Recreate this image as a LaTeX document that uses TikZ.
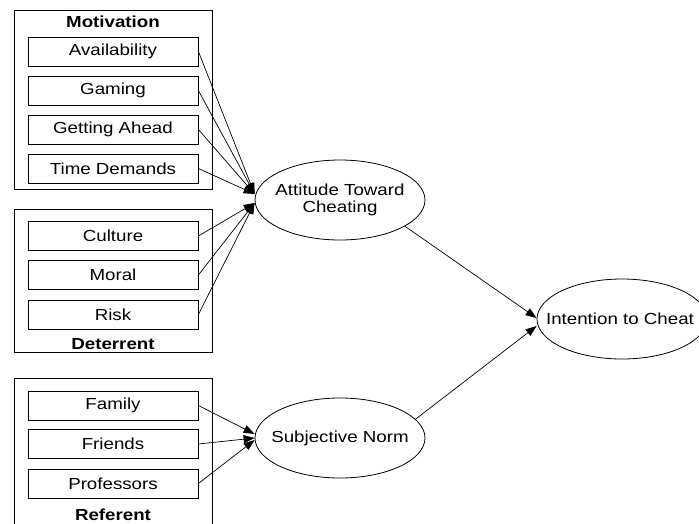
\documentclass[tikz,border=0pt]{standalone}
\usepackage{fontspec}
\setmainfont{Liberation Sans}[FakeStretch=1.17]
\usetikzlibrary{shapes.geometric,arrows.meta}
\begin{document}
\begin{tikzpicture}[x=1pt,y=-1pt,
  line width=0.8pt,
  font=\fontsize{16}{17}\selectfont,
  group/.style={draw, fill=none},
  item/.style={draw, rectangle, minimum width=170pt, minimum height=29pt, inner sep=0pt},
  title/.style={font=\fontsize{16}{17}\selectfont\bfseries, inner sep=0pt},
  construct/.style={draw, ellipse, minimum width=170pt, minimum height=80pt, inner sep=0pt},
  ctext/.style={inner sep=0pt, align=center},
  arr/.style={-{Triangle[length=11pt,width=8pt]}, line width=0.7pt}]
\useasboundingbox (0,0) rectangle (699,523);
\clip (0,0) rectangle (699,523);
% groups
\draw[group] (14,10) rectangle (212,189);
\draw[group] (14,209) rectangle (212,352);
\draw[group] (14,378) rectangle (212,540);
\node[title] (tmot) at (113,22) {Motivation};
\node[title] (tdet) at (113,344) {Deterrent};
\node[title] (tref) at (113,515) {Referent};
% items
\node[item] (avail) at (113,51.5) {Availability};
\node[item] (gaming) at (113,90.5) {Gaming};
\node[item] (ahead) at (113,129.5) {Getting Ahead};
\node[item] (time) at (113,168.5) {Time Demands};
\node[item] (culture) at (113,236) {Culture};
\node[item] (moral) at (113,275) {Moral};
\node[item] (risk) at (113,314.5) {Risk};
\node[item] (family) at (113,405.5) {Family};
\node[item] (friends) at (113,444) {Friends};
\node[item] (prof) at (113,483.5) {Professors};
% constructs
\node[construct] (att) at (340,200) {};
\node[ctext] (attT) at (att.center) {Attitude Toward\\Cheating};
\node[construct] (sn) at (340,438) {};
\node[ctext] (snT) at (sn.center) {Subjective Norm};
\node[construct] (int) at (622,319) {};
\node[ctext] (intT) at ([xshift=-2pt]int.center) {Intention to Cheat};
% connectors
\coordinate (attA) at ([yshift=6pt]att.west);
\coordinate (attB) at ([yshift=-3pt]att.west);
\coordinate (snA) at ([yshift=4pt]sn.west);
\coordinate (snB) at ([yshift=-2pt]sn.west);
\coordinate (intA) at ([yshift=1pt]int.west);
\coordinate (intB) at ([yshift=-7pt]int.west);
\foreach \n in {avail,gaming,ahead,time} \draw[arr] (\n.east) -- (attA);
\foreach \n in {culture,moral,risk} \draw[arr] (\n.east) -- (attB);
\draw[arr] (family.east) -- (snA);
\draw[arr] (friends.east) -- (sn.west);
\draw[arr] (prof.east) -- (snB);
\draw[arr] (att.-22) -- (intA);
\draw[arr] (sn.14) -- (intB);
\end{tikzpicture}
\end{document}
